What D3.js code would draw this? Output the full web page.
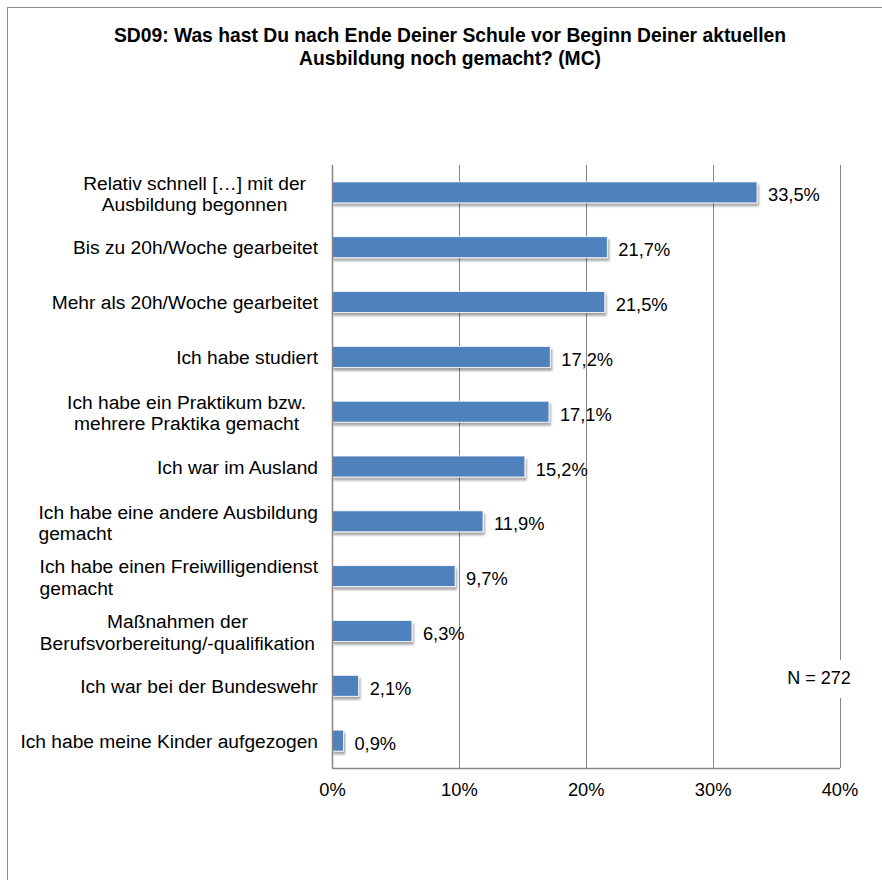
<!DOCTYPE html>
<html>
<head>
<meta charset="utf-8">
<script src="https://cdn.jsdelivr.net/npm/d3@7"></script>
<style>
  html, body { margin: 0; padding: 0; background: #fff; }
  svg { display: block; font-family: "Liberation Sans", Arial, sans-serif; }
</style>
</head>
<body>
<svg id="chart" width="882" height="880"></svg>
<script>
// Survey answers (multiple choice), share of respondents in percent
const categories = [
  ["Relativ schnell […] mit der", "Ausbildung begonnen"],
  ["Bis zu 20h/Woche gearbeitet"],
  ["Mehr als 20h/Woche gearbeitet"],
  ["Ich habe studiert"],
  ["Ich habe ein Praktikum bzw.", "mehrere Praktika gemacht"],
  ["Ich war im Ausland"],
  ["Ich habe eine andere Ausbildung", "gemacht"],
  ["Ich habe einen Freiwilligendienst", "gemacht"],
  ["Maßnahmen der", "Berufsvorbereitung/-qualifikation"],
  ["Ich war bei der Bundeswehr"],
  ["Ich habe meine Kinder aufgezogen"]
];
const values = [33.5, 21.7, 21.5, 17.2, 17.1, 15.2, 11.9, 9.7, 6.3, 2.1, 0.9];
const xTicks = [0, 10, 20, 30, 40];
const titleLines = [
  "SD09: Was hast Du nach Ende Deiner Schule vor Beginn Deiner aktuellen",
  "Ausbildung noch gemacht? (MC)"
];
const sampleNote = "N = 272";

// how the lines of a wrapped category label sit against each other
// (anchor, and for centred blocks the extra shift to the left)
const wrapAlign = [
  ["middle", 12], null, null, null, ["middle", 12], null,
  ["start", 0], ["start", 0], ["middle", 3], null, null
];

const svg = d3.select("#chart");
const plot = { left: 332, right: 839.5, top: 165, bottom: 768 };
const axisColor = "#868686";
const barColor = "#4F81BD";
const fsLabel = 19.2;
const fsValue = 18.3;

// shadow under the bars
const defs = svg.append("defs");
const f = defs.append("filter").attr("id", "shadow")
  .attr("x", "-10%").attr("y", "-30%").attr("width", "130%").attr("height", "190%");
f.append("feDropShadow").attr("dx", 1.5).attr("dy", 3).attr("stdDeviation", 1.3)
  .attr("flood-color", "#000").attr("flood-opacity", 0.35);

// chart frame
svg.append("rect").attr("x", 7.5).attr("y", 7.5).attr("width", 900).attr("height", 900)
  .attr("fill", "#fff").attr("stroke", "#8c8c8c").attr("stroke-width", 1);

// title
svg.append("text")
  .attr("x", 450).attr("y", 42)
  .attr("text-anchor", "middle")
  .attr("font-weight", "bold").attr("font-size", 19.3).attr("fill", "#000")
  .selectAll("tspan").data(titleLines).join("tspan")
  .attr("x", 450).attr("dy", (d, i) => i === 0 ? 0 : 23)
  .text(d => d);

const x = d3.scaleLinear().domain([0, 40]).range([plot.left, plot.right]);
const y = d3.scaleBand().domain(d3.range(categories.length))
  .range([plot.top, plot.bottom]).paddingInner(0.617).paddingOuter(0.3085);

// vertical gridlines
svg.append("g").selectAll("line").data(xTicks.filter(t => t > 0)).join("line")
  .attr("x1", d => Math.round(x(d)) + 0.5).attr("x2", d => Math.round(x(d)) + 0.5)
  .attr("y1", plot.top).attr("y2", plot.bottom)
  .attr("stroke", axisColor).attr("stroke-width", 1);

// bars
svg.append("g").selectAll("rect").data(values).join("rect")
  .attr("x", x(0)).attr("y", (d, i) => y(i))
  .attr("width", d => x(d) - x(0)).attr("height", y.bandwidth())
  .attr("fill", barColor).attr("stroke", "#fff").attr("stroke-width", 0.8)
  .attr("filter", "url(#shadow)");

// axis lines
svg.append("line").attr("x1", Math.round(plot.left) + 0.5).attr("x2", Math.round(plot.left) + 0.5)
  .attr("y1", plot.top).attr("y2", plot.bottom + 0.5).attr("stroke", axisColor).attr("stroke-width", 1.5);
svg.append("line").attr("x1", plot.left).attr("x2", plot.right + 0.5)
  .attr("y1", plot.bottom + 0.5).attr("y2", plot.bottom + 0.5).attr("stroke", axisColor).attr("stroke-width", 1.5);

// x axis tick labels
const xAxis = d3.axisBottom(x).tickValues(xTicks).tickSize(0).tickPadding(0)
  .tickFormat(d => d + "%");
const gx = svg.append("g").attr("transform", `translate(0,${plot.bottom + 28})`).call(xAxis);
gx.select(".domain").remove();
gx.selectAll("text").attr("font-size", fsValue).attr("fill", "#000")
  .attr("font-family", "Liberation Sans, Arial, sans-serif").attr("dy", 0);

// value labels
const fmt = d3.format(".1f");
svg.append("g").selectAll("text").data(values).join("text")
  .attr("x", d => x(d) + 11)
  .attr("y", (d, i) => y(i) + y.bandwidth() / 2 + 9)
  .attr("font-size", fsValue).attr("fill", "#000")
  .text(d => fmt(d).replace(".", ",") + "%");

// category labels
const labelRight = plot.left - 14;
const lineH = 21.5;
const gl = svg.append("g");
categories.forEach((lines, i) => {
  const cy = y(i) + y.bandwidth() / 2;
  const t = gl.append("text").attr("font-size", fsLabel).attr("fill", "#000");
  const spans = t.selectAll("tspan").data(lines).join("tspan")
    .attr("y", (d, k) => cy + 7 + (k - (lines.length - 1) / 2) * lineH + (lines.length > 1 ? 1 : 0))
    .text(d => d);
  const widths = [];
  spans.each(function () { widths.push(this.getComputedTextLength()); });
  const maxW = d3.max(widths);
  const align = wrapAlign[i];
  if (!align) {
    spans.attr("x", labelRight).attr("text-anchor", "end");
  } else if (align[0] === "start") {
    spans.attr("x", labelRight - maxW).attr("text-anchor", "start");
  } else {
    spans.attr("x", labelRight - maxW / 2 - align[1]).attr("text-anchor", "middle");
  }
});

// sample size note over the right border
const note = svg.append("g");
note.append("rect").attr("x", 782).attr("y", 660).attr("width", 74).attr("height", 38).attr("fill", "#fff");
note.append("text").attr("x", 819).attr("y", 684).attr("text-anchor", "middle")
  .attr("font-size", 18).attr("fill", "#000").text(sampleNote);
</script>
</body>
</html>
